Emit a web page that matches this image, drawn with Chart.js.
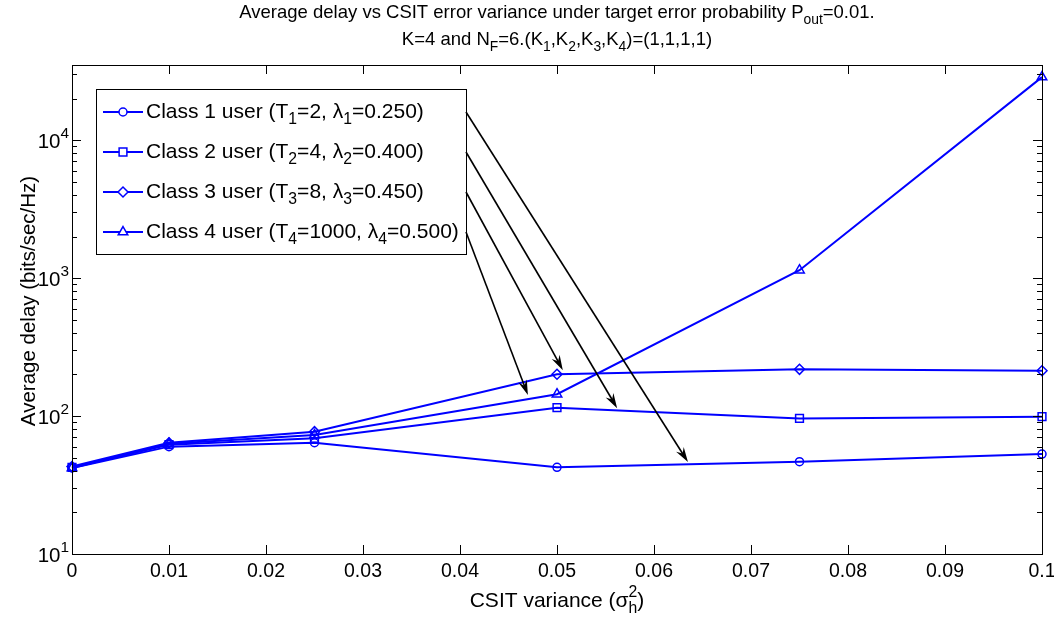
<!DOCTYPE html>
<html>
<head>
<meta charset="utf-8">
<script src="https://cdn.jsdelivr.net/npm/chart.js@4.4.1/dist/chart.umd.min.js"></script>
<style>
  html, body { margin: 0; padding: 0; background: #fff; }
  #wrap { width: 1054px; height: 622px; }
</style>
</head>
<body>
<div id="wrap"><canvas id="chart" width="1054" height="622"></canvas></div>
<script>
// x values (CSIT variance) and average delay for each class
const variance = [0, 0.01, 0.025, 0.05, 0.075, 0.1];
const class1 = [42, 60, 64, 42.5, 46.7, 53];
const class2 = [42.5, 62, 69, 115, 96, 99];
const class3 = [43, 64, 77, 201, 218, 213];
const class4 = [42, 63, 73, 144, 1140, 28600];

const seriesLabels = [
    'Class 1 user (T_{1}=2, \u03bb_{1}=0.250)',
    'Class 2 user (T_{2}=4, \u03bb_{2}=0.400)',
    'Class 3 user (T_{3}=8, \u03bb_{3}=0.450)',
    'Class 4 user (T_{4}=1000, \u03bb_{4}=0.500)'
];
const markers = ['circle', 'rect', 'rectRot', 'triangle'];
const markerSizes = [4, 5.5, 5, 5.5];

const xTicks = [0, 0.01, 0.02, 0.03, 0.04, 0.05, 0.06, 0.07, 0.08, 0.09, 0.1];
const xTickLabels = ['0', '0.01', '0.02', '0.03', '0.04', '0.05', '0.06', '0.07', '0.08', '0.09', '0.1'];
const yDecades = [10, 100, 1000, 10000];
const yTickLabels = ['10^{1}', '10^{2}', '10^{3}', '10^{4}'];

// arrow tips, one per legend row (x, delay)
const arrowTips = [[0.0635, 46.4], [0.0562, 114], [0.0506, 215], [0.0470, 142]];

const titleLines = [
    'Average delay vs CSIT error variance under target error probability P_{out}=0.01.',
    'K=4 and N_{F}=6.(K_{1},K_{2},K_{3},K_{4})=(1,1,1,1)'
];
const xTitle = 'CSIT variance (\u03c3_{h}^{2})';
const yTitle = 'Average delay (bits/sec/Hz)';

const FONT = '"Liberation Sans", Arial, sans-serif';
const BLUE = '#0000ff';

function parseRich(str) {
    const parts = [];
    const re = /([_^])\{([^}]*)\}/g;
    let last = 0, m;
    while ((m = re.exec(str)) !== null) {
        if (m.index > last) parts.push({ t: str.slice(last, m.index), k: '' });
        parts.push({ t: m[2], k: m[1] });
        last = re.lastIndex;
    }
    if (last < str.length) parts.push({ t: str.slice(last), k: '' });
    return parts;
}

function richWidth(ctx, str, size) {
    const parts = parseRich(str);
    let w = 0;
    for (let i = 0; i < parts.length; i++) {
        const p = parts[i];
        const s = p.k ? size * 0.75 : size;
        ctx.font = s + 'px ' + FONT;
        const pw = ctx.measureText(p.t).width;
        // a sub directly followed by a sup stacks on the same x
        if (p.k === '_' && parts[i + 1] && parts[i + 1].k === '^') {
            w += Math.max(pw, ctx.measureText(parts[i + 1].t).width);
            i++;
        } else {
            w += pw;
        }
    }
    return w;
}

function drawRich(ctx, str, x, y, size, align) {
    const parts = parseRich(str);
    const total = richWidth(ctx, str, size);
    let cx = align === 'center' ? x - total / 2 : align === 'right' ? x - total : x;
    ctx.textAlign = 'left';
    ctx.textBaseline = 'middle';
    for (let i = 0; i < parts.length; i++) {
        const p = parts[i];
        const s = p.k ? size * 0.75 : size;
        ctx.font = s + 'px ' + FONT;
        const dy = p.k === '_' ? size * 0.38 : p.k === '^' ? -size * 0.42 : 0;
        ctx.fillText(p.t, cx, y + dy);
        let pw = ctx.measureText(p.t).width;
        if (p.k === '_' && parts[i + 1] && parts[i + 1].k === '^') {
            const q = parts[i + 1];
            ctx.fillText(q.t, cx, y - size * 0.42);
            pw = Math.max(pw, ctx.measureText(q.t).width);
            i++;
        }
        cx += pw;
    }
}

const matlabAxes = {
    id: 'matlabAxes',
    afterDatasetsDraw(chart) {
        const { ctx, chartArea: a, scales: { x, y } } = chart;
        ctx.save();
        ctx.strokeStyle = '#000';
        ctx.fillStyle = '#000';
        ctx.lineWidth = 1;

        // box
        ctx.strokeRect(a.left + 0.5, a.top + 0.5, a.right - a.left, a.bottom - a.top);

        // x ticks, top and bottom, pointing inward
        ctx.beginPath();
        xTicks.forEach(v => {
            const px = Math.round(x.getPixelForValue(v)) + 0.5;
            ctx.moveTo(px, a.bottom); ctx.lineTo(px, a.bottom - 9);
            ctx.moveTo(px, a.top); ctx.lineTo(px, a.top + 9);
        });
        // y ticks, major and minor, left and right
        yDecades.forEach(d => {
            for (let k = 1; k <= 9; k++) {
                const v = d * k;
                if (v > y.max) break;
                const py = Math.round(y.getPixelForValue(v)) + 0.5;
                const len = k === 1 ? 9 : 5;
                ctx.moveTo(a.left, py); ctx.lineTo(a.left + len, py);
                ctx.moveTo(a.right, py); ctx.lineTo(a.right - len, py);
            }
        });
        ctx.stroke();

        // tick labels
        xTicks.forEach((v, i) => {
            ctx.font = '19.5px ' + FONT;
            ctx.textAlign = 'center';
            ctx.textBaseline = 'middle';
            ctx.fillText(xTickLabels[i], x.getPixelForValue(v), a.bottom + 18);
        });
        yDecades.forEach((d, i) => {
            drawRich(ctx, yTickLabels[i], a.left - 3, y.getPixelForValue(d) + 2, 20.5, 'right');
        });

        // titles
        drawRich(ctx, titleLines[0], (a.left + a.right) / 2, 13, 18.5, 'center');
        drawRich(ctx, titleLines[1], (a.left + a.right) / 2, 40, 18.5, 'center');
        drawRich(ctx, xTitle, (a.left + a.right) / 2, 601, 21, 'center');
        ctx.save();
        ctx.translate(29, 301);
        ctx.rotate(-Math.PI / 2);
        drawRich(ctx, yTitle, 0, 0, 20.5, 'center');
        ctx.restore();

        // legend
        const lx = a.left + 24, ly = a.top + 24, lw = 370, lh = 165;
        ctx.fillStyle = '#fff';
        ctx.fillRect(lx, ly, lw, lh);
        ctx.strokeStyle = '#000';
        ctx.lineWidth = 1;
        ctx.strokeRect(lx + 0.5, ly + 0.5, lw, lh);
        const rows = [];
        chart.data.datasets.forEach((ds, i) => {
            const ry = ly + 23 + i * 40;
            rows.push([lx + lw, ry]);
            ctx.strokeStyle = ds.borderColor;
            ctx.lineWidth = ds.borderWidth;
            ctx.beginPath();
            ctx.moveTo(lx + 7, ry); ctx.lineTo(lx + 47, ry);
            ctx.stroke();
            ctx.lineWidth = ds.pointBorderWidth;
            ctx.fillStyle = '#fff';
            Chart.helpers.drawPoint(ctx, { pointStyle: ds.pointStyle, rotation: 0, radius: ds.pointRadius, borderWidth: ds.pointBorderWidth }, lx + 27, ry);
            ctx.fillStyle = '#000';
            drawRich(ctx, ds.label, lx + 50, ry, 21, 'left');
        });

        // arrows from legend rows to the curves
        ctx.strokeStyle = '#000';
        ctx.fillStyle = '#000';
        ctx.lineWidth = 1.6;
        arrowTips.forEach((t, i) => {
            const [sx, sy] = rows[i];
            const tx = x.getPixelForValue(t[0]);
            const ty = y.getPixelForValue(t[1]);
            const ang = Math.atan2(ty - sy, tx - sx);
            const hl = 15, hw = 4.5;
            ctx.beginPath();
            ctx.moveTo(sx, sy);
            ctx.lineTo(tx - Math.cos(ang) * 8, ty - Math.sin(ang) * 8);
            ctx.stroke();
            const bx = tx - Math.cos(ang) * hl, by = ty - Math.sin(ang) * hl;
            const nx = -Math.sin(ang), ny = Math.cos(ang);
            ctx.beginPath();
            ctx.moveTo(tx, ty);
            ctx.lineTo(bx + nx * hw, by + ny * hw);
            ctx.lineTo(tx - Math.cos(ang) * 10, ty - Math.sin(ang) * 10);
            ctx.lineTo(bx - nx * hw, by - ny * hw);
            ctx.closePath();
            ctx.fill();
        });
        ctx.restore();
    }
};

const allSeries = [class1, class2, class3, class4];

const datasets = allSeries.map((values, i) => ({
    label: seriesLabels[i],
    data: values.map((v, j) => ({ x: variance[j], y: v })),
    borderColor: BLUE,
    backgroundColor: 'rgba(0,0,0,0)',
    pointBackgroundColor: 'rgba(0,0,0,0)',
    pointBorderColor: BLUE,
    borderWidth: 2,
    pointBorderWidth: 1.5,
    pointStyle: markers[i],
    pointRadius: markerSizes[i],
    tension: 0,
    clip: false
}));

new Chart(document.getElementById('chart'), {
    type: 'line',
    data: { datasets },
    options: {
        responsive: false,
        animation: false,
        devicePixelRatio: 1,
        layout: { padding: { left: 72, top: 65, right: 12, bottom: 68 } },
        plugins: {
            legend: { display: false },
            title: { display: false },
            tooltip: { enabled: false }
        },
        scales: {
            x: { type: 'linear', min: 0, max: 0.1, display: false },
            y: { type: 'logarithmic', min: 10, max: 35000, display: false }
        }
    },
    plugins: [matlabAxes]
});
</script>
</body>
</html>
